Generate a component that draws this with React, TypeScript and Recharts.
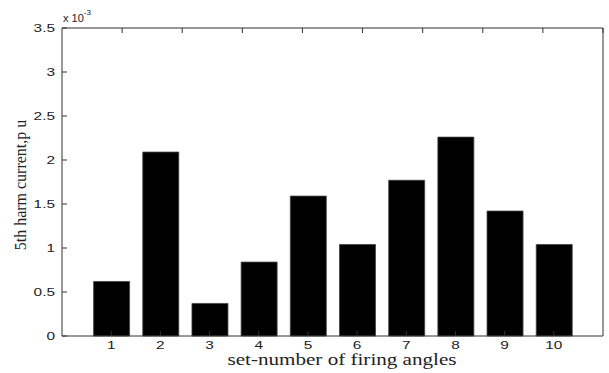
import { BarChart, Bar, XAxis, YAxis, Label } from "recharts";

const setNumbers = [1, 2, 3, 4, 5, 6, 7, 8, 9, 10];
// 5th harmonic current, in units of 1e-3 p.u.
const harmCurrent = [0.62, 2.09, 0.37, 0.84, 1.59, 1.04, 1.77, 2.26, 1.42, 1.04];
const yTicks = [0, 0.5, 1, 1.5, 2, 2.5, 3, 3.5];
const xDomain = [0, 11];
const yDomain = [0, 3.5];

const data = setNumbers.map((n, i) => ({ set: n, current: harmCurrent[i] }));

const TICK_LEN = 5;
const STRETCH = 1.4;
const axisColor = "#333";
const textColor = "#222";
const sans = "'Liberation Sans', Arial, sans-serif";
const serif = "'Liberation Serif', 'Times New Roman', serif";

function BottomTick(props: any) {
  const { x, y, payload } = props;
  return (
    <g>
      <line x1={x} y1={y} x2={x} y2={y - TICK_LEN} stroke={axisColor} />
      <g transform={`translate(${x},${y + 13}) scale(${STRETCH},1)`}>
        <text textAnchor="middle" fontSize={11} fontFamily={sans} fill={textColor}>
          {payload.value}
        </text>
      </g>
    </g>
  );
}

function TopTick(props: any) {
  const { x, y } = props;
  return <line x1={x} y1={y} x2={x} y2={y + TICK_LEN} stroke={axisColor} />;
}

function LeftTick(props: any) {
  const { x, y, payload } = props;
  return (
    <g>
      <line x1={x} y1={y} x2={x + TICK_LEN} y2={y} stroke={axisColor} />
      <g transform={`translate(${x - 7},${y}) scale(${STRETCH},1)`}>
        <text textAnchor="end" dy="0.36em" fontSize={11} fontFamily={sans} fill={textColor}>
          {payload.value}
        </text>
      </g>
    </g>
  );
}

function RightTick(props: any) {
  const { x, y } = props;
  return <line x1={x} y1={y} x2={x - TICK_LEN} y2={y} stroke={axisColor} />;
}

export default function App() {
  return (
    <div style={{ position: "absolute", left: 0, top: 0, width: 609, height: 373, background: "#fff" }}>
      <BarChart
        width={609}
        height={373}
        data={data}
        margin={{ top: 27, right: 5, left: 0, bottom: 0 }}
        barSize={36}
      >
        <XAxis
          dataKey="set"
          type="number"
          domain={xDomain}
          ticks={setNumbers}
          height={37}
          tickSize={0}
          tickMargin={0}
          tickLine={false}
          axisLine={{ stroke: axisColor }}
          tick={BottomTick}
          interval={0}
        >
          <Label
            content={() => (
              <text
                x={342}
                y={365}
                textAnchor="middle"
                textLength={229}
                lengthAdjust="spacingAndGlyphs"
                fontSize={16}
                fontFamily={serif}
                fill={textColor}
              >
                set-number of firing angles
              </text>
            )}
          />
        </XAxis>
        <XAxis
          xAxisId="top"
          orientation="top"
          type="number"
          domain={xDomain}
          ticks={setNumbers}
          height={1}
          tickSize={0}
          tickMargin={0}
          tickLine={false}
          axisLine={{ stroke: axisColor }}
          tick={TopTick}
          interval={0}
        >
          <Label
            content={() => (
              <text x={63} y={22} fontSize={11} fontFamily={sans} fill={textColor}>
                x 10
                <tspan dy={-7} fontSize={8}>
                  -3
                </tspan>
              </text>
            )}
          />
        </XAxis>
        <YAxis
          type="number"
          domain={yDomain}
          ticks={yTicks}
          width={62}
          tickSize={0}
          tickMargin={0}
          tickLine={false}
          axisLine={{ stroke: axisColor }}
          tick={LeftTick}
          interval={0}
        >
          <Label
            content={() => (
              <text
                transform="translate(26,185) rotate(-90)"
                textAnchor="middle"
                fontSize={16}
                fontFamily={serif}
                fill={textColor}
              >
                5th harm current,p u
              </text>
            )}
          />
        </YAxis>
        <YAxis
          yAxisId="right"
          orientation="right"
          type="number"
          domain={yDomain}
          ticks={yTicks}
          width={1}
          tickSize={0}
          tickMargin={0}
          tickLine={false}
          axisLine={{ stroke: axisColor }}
          tick={RightTick}
          interval={0}
        />
        <Bar dataKey="current" fill="#000" stroke="#444" strokeWidth={0.8} isAnimationActive={false} />
      </BarChart>
    </div>
  );
}
